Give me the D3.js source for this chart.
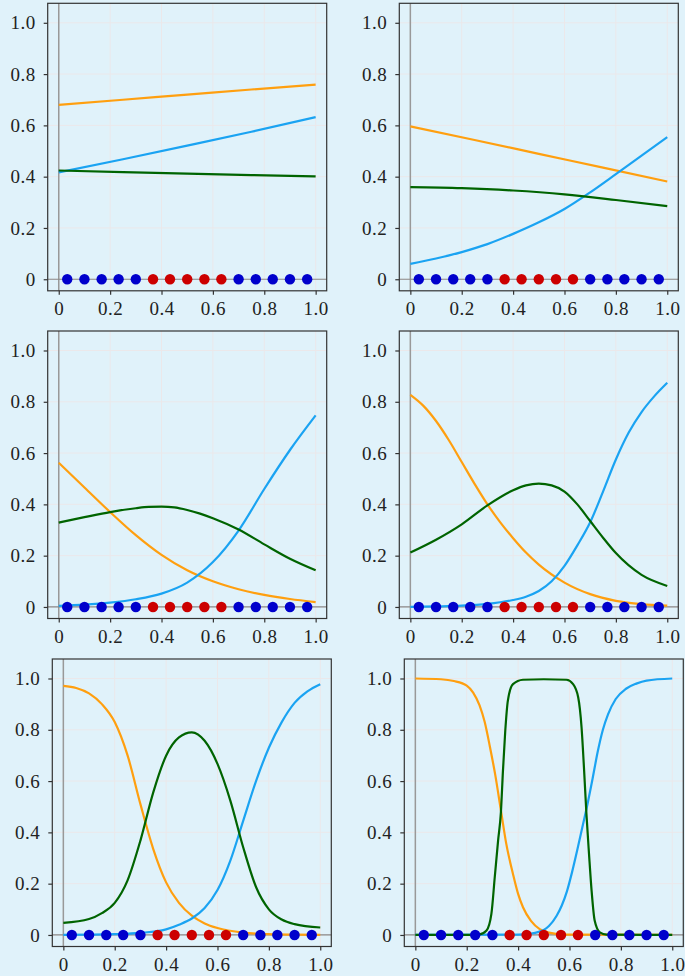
<!DOCTYPE html>
<html>
<head>
<meta charset="utf-8">
<script src="https://cdn.jsdelivr.net/npm/d3@7"></script>
<style>
  html, body { margin:0; padding:0; background:#e0f2fa; }
  svg { display:block; }
</style>
</head>
<body>
<svg id="chart" width="685" height="976"></svg>
<script>
// ---------- data ----------
const xTicks = [0, 0.2, 0.4, 0.6, 0.8, 1.0];
const yTicks = [0, 0.2, 0.4, 0.6, 0.8, 1.0];
const pointX = [0.033,0.1,0.167,0.233,0.3,0.367,0.433,0.5,0.567,0.633,0.7,0.767,0.833,0.9,0.967];
const pointClass = [0,0,0,0,0,1,1,1,1,1,0,0,0,0,0];

// panel 1
const orange1 = [[0,0.680],[0.25,0.700],[0.5,0.720],[0.75,0.740],[1,0.759]];
const blue1   = [[0,0.417],[0.25,0.468],[0.5,0.521],[0.75,0.575],[1,0.632]];
const green1  = [[0,0.424],[0.25,0.418],[0.5,0.412],[0.75,0.406],[1,0.401]];
// panel 2
const orange2 = [[0,0.596],[0.25,0.543],[0.5,0.489],[0.75,0.435],[1,0.381]];
const blue2   = [[0,0.060],[0.1,0.081],[0.2,0.106],[0.3,0.137],[0.4,0.177],[0.5,0.222],[0.6,0.274],[0.7,0.339],[0.8,0.410],[0.9,0.482],[1,0.554]];
const green2  = [[0,0.359],[0.2,0.355],[0.4,0.346],[0.6,0.331],[0.8,0.309],[1,0.285]];
// panel 3
const orange3 = [[0,0.562],[0.1,0.466],[0.2,0.370],[0.3,0.280],[0.4,0.203],[0.5,0.143],[0.6,0.100],[0.7,0.069],[0.8,0.047],[0.9,0.031],[1,0.019]];
const blue3   = [[0,0.004],[0.1,0.009],[0.2,0.017],[0.3,0.030],[0.4,0.052],[0.5,0.095],[0.6,0.175],[0.7,0.298],[0.8,0.460],[0.9,0.612],[1,0.747]];
const green3  = [[0,0.329],[0.1,0.350],[0.2,0.370],[0.3,0.385],[0.35,0.390],[0.4,0.391],[0.45,0.388],[0.5,0.378],[0.55,0.364],[0.6,0.346],[0.7,0.302],[0.8,0.244],[0.9,0.188],[1,0.143]];
// panel 4
const orange4 = [[0,0.827],[0.05,0.785],[0.1,0.725],[0.15,0.650],[0.2,0.565],[0.25,0.480],[0.3,0.400],[0.35,0.330],[0.4,0.268],[0.45,0.212],[0.5,0.165],[0.6,0.095],[0.7,0.050],[0.8,0.024],[0.9,0.011],[1,0.005]];
const blue4   = [[0,0.000],[0.1,0.002],[0.2,0.005],[0.3,0.012],[0.4,0.027],[0.45,0.040],[0.5,0.062],[0.55,0.100],[0.6,0.160],[0.65,0.240],[0.7,0.330],[0.75,0.450],[0.8,0.575],[0.85,0.680],[0.9,0.760],[0.95,0.822],[1,0.874]];
const green4  = [[0,0.212],[0.1,0.262],[0.2,0.322],[0.3,0.396],[0.4,0.455],[0.45,0.474],[0.5,0.481],[0.55,0.474],[0.6,0.450],[0.65,0.400],[0.7,0.335],[0.75,0.270],[0.8,0.210],[0.9,0.125],[1,0.082]];
// panel 5
const orange5 = [[0,0.971],[0.05,0.963],[0.1,0.942],[0.15,0.900],[0.2,0.830],[0.25,0.700],[0.3,0.510],[0.35,0.335],[0.4,0.205],[0.45,0.125],[0.5,0.075],[0.55,0.045],[0.6,0.027],[0.7,0.009],[0.8,0.003],[0.9,0.001],[1,0.000]];
const blue5   = [[0,0.000],[0.1,0.001],[0.2,0.003],[0.3,0.008],[0.4,0.022],[0.45,0.040],[0.5,0.064],[0.55,0.105],[0.6,0.175],[0.65,0.290],[0.7,0.445],[0.75,0.600],[0.8,0.730],[0.85,0.830],[0.9,0.905],[0.95,0.950],[1,0.978]];
const green5  = [[0,0.047],[0.1,0.062],[0.15,0.085],[0.2,0.125],[0.25,0.213],[0.3,0.368],[0.35,0.556],[0.4,0.699],[0.45,0.770],[0.5,0.790],[0.55,0.757],[0.6,0.667],[0.65,0.524],[0.7,0.342],[0.75,0.187],[0.8,0.100],[0.85,0.060],[0.9,0.042],[1,0.029]];
// panel 6
const orange6 = [[0,1.0],[0.1,0.997],[0.15,0.990],[0.2,0.972],[0.225,0.945],[0.25,0.895],[0.27,0.830],[0.29,0.735],[0.31,0.630],[0.334,0.480],[0.354,0.355],[0.38,0.238],[0.40,0.160],[0.419,0.108],[0.45,0.055],[0.484,0.023],[0.52,0.009],[0.586,0.001],[1,0.0]];
const blue6   = [[0,0.0],[0.4,0.001],[0.45,0.005],[0.48,0.012],[0.5,0.020],[0.52,0.035],[0.55,0.075],[0.57,0.115],[0.59,0.170],[0.61,0.245],[0.63,0.330],[0.65,0.420],[0.67,0.510],[0.69,0.610],[0.71,0.715],[0.73,0.800],[0.75,0.860],[0.78,0.920],[0.82,0.960],[0.86,0.980],[0.9,0.992],[1,1.0]];
const green6  = [[0,0.0],[0.2,0.0],[0.25,0.002],[0.277,0.017],[0.296,0.082],[0.309,0.224],[0.322,0.367],[0.333,0.478],[0.341,0.640],[0.35,0.796],[0.36,0.913],[0.38,0.978],[0.419,0.995],[0.5,0.997],[0.588,0.995],[0.614,0.978],[0.634,0.926],[0.647,0.809],[0.657,0.640],[0.666,0.471],[0.676,0.316],[0.686,0.173],[0.698,0.056],[0.718,0.010],[0.744,0.001],[1,0.0]];

const panelSeries = [
  [orange1, blue1, green1],
  [orange2, blue2, green2],
  [orange3, blue3, green3],
  [orange4, blue4, green4],
  [orange5, blue5, green5],
  [orange6, blue6, green6]
];

// ---------- layout ----------
const panelPos = [
  {left:47.7,  top:3.3},
  {left:399.3, top:3.3},
  {left:47.7,  top:331},
  {left:399.3, top:331},
  {left:52.3,  top:659},
  {left:404.3, top:659}
];
const PW = 279, PH = 287.5;
const seriesColors = ["#ff9f0f", "#1aa3f2", "#006400"];
const pointColors = ["#0000cc", "#cc0000"];
const FONT = "\"Liberation Serif\", \"DejaVu Serif\", serif";

const svg = d3.select("#chart");
svg.append("rect").attr("width",685).attr("height",976).attr("fill","#e0f2fa");

panelPos.forEach((pos, i) => {
  const g = svg.append("g").attr("transform", `translate(${pos.left},${pos.top})`);
  const x = d3.scaleLinear().domain([-0.043, 1.043]).range([0, PW]);
  const y = d3.scaleLinear().domain([-0.045, 1.076]).range([PH, 0]);

  g.append("rect").attr("width",PW).attr("height",PH).attr("fill","#e0f2fa");

  // grid
  g.append("g").selectAll("line").data(xTicks).join("line")
    .attr("x1", d=>x(d)).attr("x2", d=>x(d)).attr("y1",0).attr("y2",PH)
    .attr("stroke","#ebe8ea").attr("stroke-width",1);
  g.append("g").selectAll("line").data(yTicks).join("line")
    .attr("y1", d=>y(d)).attr("y2", d=>y(d)).attr("x1",0).attr("x2",PW)
    .attr("stroke","#ebe8ea").attr("stroke-width",1);

  // zero lines
  g.append("line").attr("x1",x(0)).attr("x2",x(0)).attr("y1",0).attr("y2",PH)
    .attr("stroke","#999").attr("stroke-width",1.5);
  g.append("line").attr("x1",0).attr("x2",PW).attr("y1",y(0)).attr("y2",y(0))
    .attr("stroke","#888").attr("stroke-width",1.2);

  // curves
  const line = d3.line().x(d=>x(d[0])).y(d=>y(d[1])).curve(d3.curveMonotoneX);
  panelSeries[i].forEach((s, k) => {
    g.append("path").datum(s).attr("d", line)
      .attr("fill","none").attr("stroke", seriesColors[k]).attr("stroke-width",2.2)
      .attr("stroke-linejoin","round");
  });

  // points
  g.append("g").selectAll("circle").data(pointX).join("circle")
    .attr("cx", d=>x(d)).attr("cy", y(0)).attr("r",5.2)
    .attr("fill", (d,j)=>pointColors[pointClass[j]]);

  // frame
  g.append("rect").attr("width",PW).attr("height",PH)
    .attr("fill","none").attr("stroke","#333").attr("stroke-width",1.2);

  const fmt = d => d === 0 ? "0" : d3.format(".1f")(d);
  const xa = g.append("g").attr("transform",`translate(0,${PH})`)
    .call(d3.axisBottom(x).tickValues(xTicks).tickFormat(fmt).tickSize(4).tickSizeOuter(0).tickPadding(7));
  const ya = g.append("g")
    .call(d3.axisLeft(y).tickValues(yTicks).tickFormat(fmt).tickSize(4).tickSizeOuter(0).tickPadding(8));
  [xa, ya].forEach(a => {
    a.attr("font-family", null).attr("font-size", null);
    a.select(".domain").remove();
    a.selectAll(".tick line").attr("stroke","#333").attr("stroke-width",1.2);
    a.selectAll(".tick text")
      .style("font-family", FONT, "important")
      .style("font-size", "19px", "important")
      .style("letter-spacing", "0.5px")
      .style("fill", "#222");
  });
});
</script>
</body>
</html>
